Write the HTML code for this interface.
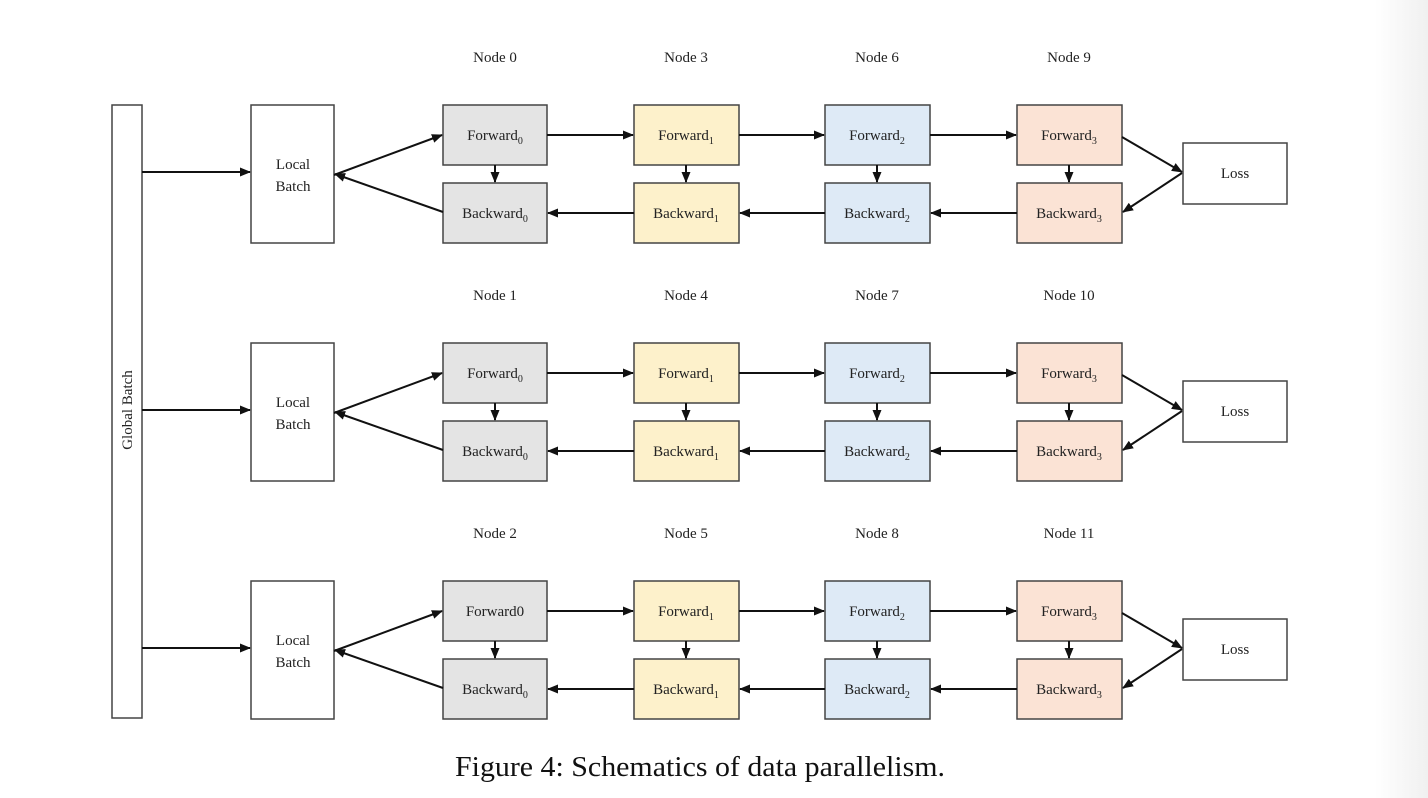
<!DOCTYPE html>
<html><head><meta charset="utf-8"><style>
html,body{margin:0;padding:0;background:#fff}
body{width:1428px;height:798px;overflow:hidden;position:relative}
.strip{position:absolute;left:1375px;top:0;width:53px;height:798px;background:linear-gradient(to right,#fff,#f0f0f0)}
svg{position:absolute;left:0;top:0}
text{font-family:"Liberation Serif",serif;fill:#222}
</style></head><body>
<div class="strip"></div>
<svg width="1428" height="798" viewBox="0 0 1428 798">
<defs>
<marker id="a" markerWidth="11" markerHeight="9" refX="10" refY="4.5" orient="auto" markerUnits="userSpaceOnUse">
<path d="M0,0 L11,4.5 L0,9 z" fill="#111"/></marker>
</defs>
<g stroke="#444" stroke-width="1.5">
<rect x="112" y="105" width="30" height="613" fill="#fff"/>
</g>
<text transform="translate(132,410) rotate(-90)" text-anchor="middle" font-size="15">Global  Batch</text>

<g id="row0">
<g stroke="#444" stroke-width="1.5">
<rect x="251" y="105" width="83" height="138" fill="#fff"/>
<rect x="443" y="105" width="104" height="60" fill="#e4e4e4"/>
<rect x="443" y="183" width="104" height="60" fill="#e4e4e4"/>
<rect x="634" y="105" width="105" height="60" fill="#fdf1cb"/>
<rect x="634" y="183" width="105" height="60" fill="#fdf1cb"/>
<rect x="825" y="105" width="105" height="60" fill="#deeaf6"/>
<rect x="825" y="183" width="105" height="60" fill="#deeaf6"/>
<rect x="1017" y="105" width="105" height="60" fill="#fbe3d5"/>
<rect x="1017" y="183" width="105" height="60" fill="#fbe3d5"/>
<rect x="1183" y="143" width="104" height="61" fill="#fff"/>
</g>
<g stroke="#111" stroke-width="2" fill="none" marker-end="url(#a)">
<line x1="142" y1="172" x2="250" y2="172"/>
<line x1="334" y1="175" x2="442" y2="135"/>
<line x1="443" y1="212" x2="335" y2="174"/>
<line x1="547" y1="135" x2="633" y2="135"/>
<line x1="739" y1="135" x2="824" y2="135"/>
<line x1="930" y1="135" x2="1016" y2="135"/>
<line x1="1017" y1="213" x2="931" y2="213"/>
<line x1="825" y1="213" x2="740" y2="213"/>
<line x1="634" y1="213" x2="548" y2="213"/>
<line x1="495" y1="165" x2="495" y2="182"/>
<line x1="686" y1="165" x2="686" y2="182"/>
<line x1="877" y1="165" x2="877" y2="182"/>
<line x1="1069" y1="165" x2="1069" y2="182"/>
<line x1="1122" y1="137" x2="1182" y2="172"/>
<line x1="1182" y1="173" x2="1123" y2="212"/>
</g>
<g font-size="15" text-anchor="middle">
<text x="293" y="169">Local</text><text x="293" y="191">Batch</text>
<text x="495" y="62">Node 0</text><text x="686" y="62">Node 3</text><text x="877" y="62">Node 6</text><text x="1069" y="62">Node 9</text>
<text x="495" y="140">Forward<tspan font-size="10" dy="4">0</tspan></text>
<text x="495" y="218">Backward<tspan font-size="10" dy="4">0</tspan></text>
<text x="686" y="140">Forward<tspan font-size="10" dy="4">1</tspan></text>
<text x="686" y="218">Backward<tspan font-size="10" dy="4">1</tspan></text>
<text x="877" y="140">Forward<tspan font-size="10" dy="4">2</tspan></text>
<text x="877" y="218">Backward<tspan font-size="10" dy="4">2</tspan></text>
<text x="1069" y="140">Forward<tspan font-size="10" dy="4">3</tspan></text>
<text x="1069" y="218">Backward<tspan font-size="10" dy="4">3</tspan></text>
<text x="1235" y="178">Loss</text>
</g>
</g>

<g transform="translate(0,238)">
<g stroke="#444" stroke-width="1.5">
<rect x="251" y="105" width="83" height="138" fill="#fff"/>
<rect x="443" y="105" width="104" height="60" fill="#e4e4e4"/>
<rect x="443" y="183" width="104" height="60" fill="#e4e4e4"/>
<rect x="634" y="105" width="105" height="60" fill="#fdf1cb"/>
<rect x="634" y="183" width="105" height="60" fill="#fdf1cb"/>
<rect x="825" y="105" width="105" height="60" fill="#deeaf6"/>
<rect x="825" y="183" width="105" height="60" fill="#deeaf6"/>
<rect x="1017" y="105" width="105" height="60" fill="#fbe3d5"/>
<rect x="1017" y="183" width="105" height="60" fill="#fbe3d5"/>
<rect x="1183" y="143" width="104" height="61" fill="#fff"/>
</g>
<g stroke="#111" stroke-width="2" fill="none" marker-end="url(#a)">
<line x1="142" y1="172" x2="250" y2="172"/>
<line x1="334" y1="175" x2="442" y2="135"/>
<line x1="443" y1="212" x2="335" y2="174"/>
<line x1="547" y1="135" x2="633" y2="135"/>
<line x1="739" y1="135" x2="824" y2="135"/>
<line x1="930" y1="135" x2="1016" y2="135"/>
<line x1="1017" y1="213" x2="931" y2="213"/>
<line x1="825" y1="213" x2="740" y2="213"/>
<line x1="634" y1="213" x2="548" y2="213"/>
<line x1="495" y1="165" x2="495" y2="182"/>
<line x1="686" y1="165" x2="686" y2="182"/>
<line x1="877" y1="165" x2="877" y2="182"/>
<line x1="1069" y1="165" x2="1069" y2="182"/>
<line x1="1122" y1="137" x2="1182" y2="172"/>
<line x1="1182" y1="173" x2="1123" y2="212"/>
</g>
<g font-size="15" text-anchor="middle">
<text x="293" y="169">Local</text><text x="293" y="191">Batch</text>
<text x="495" y="62">Node 1</text><text x="686" y="62">Node 4</text><text x="877" y="62">Node 7</text><text x="1069" y="62">Node 10</text>
<text x="495" y="140">Forward<tspan font-size="10" dy="4">0</tspan></text>
<text x="495" y="218">Backward<tspan font-size="10" dy="4">0</tspan></text>
<text x="686" y="140">Forward<tspan font-size="10" dy="4">1</tspan></text>
<text x="686" y="218">Backward<tspan font-size="10" dy="4">1</tspan></text>
<text x="877" y="140">Forward<tspan font-size="10" dy="4">2</tspan></text>
<text x="877" y="218">Backward<tspan font-size="10" dy="4">2</tspan></text>
<text x="1069" y="140">Forward<tspan font-size="10" dy="4">3</tspan></text>
<text x="1069" y="218">Backward<tspan font-size="10" dy="4">3</tspan></text>
<text x="1235" y="178">Loss</text>
</g>
</g>

<g transform="translate(0,476)">
<g stroke="#444" stroke-width="1.5">
<rect x="251" y="105" width="83" height="138" fill="#fff"/>
<rect x="443" y="105" width="104" height="60" fill="#e4e4e4"/>
<rect x="443" y="183" width="104" height="60" fill="#e4e4e4"/>
<rect x="634" y="105" width="105" height="60" fill="#fdf1cb"/>
<rect x="634" y="183" width="105" height="60" fill="#fdf1cb"/>
<rect x="825" y="105" width="105" height="60" fill="#deeaf6"/>
<rect x="825" y="183" width="105" height="60" fill="#deeaf6"/>
<rect x="1017" y="105" width="105" height="60" fill="#fbe3d5"/>
<rect x="1017" y="183" width="105" height="60" fill="#fbe3d5"/>
<rect x="1183" y="143" width="104" height="61" fill="#fff"/>
</g>
<g stroke="#111" stroke-width="2" fill="none" marker-end="url(#a)">
<line x1="142" y1="172" x2="250" y2="172"/>
<line x1="334" y1="175" x2="442" y2="135"/>
<line x1="443" y1="212" x2="335" y2="174"/>
<line x1="547" y1="135" x2="633" y2="135"/>
<line x1="739" y1="135" x2="824" y2="135"/>
<line x1="930" y1="135" x2="1016" y2="135"/>
<line x1="1017" y1="213" x2="931" y2="213"/>
<line x1="825" y1="213" x2="740" y2="213"/>
<line x1="634" y1="213" x2="548" y2="213"/>
<line x1="495" y1="165" x2="495" y2="182"/>
<line x1="686" y1="165" x2="686" y2="182"/>
<line x1="877" y1="165" x2="877" y2="182"/>
<line x1="1069" y1="165" x2="1069" y2="182"/>
<line x1="1122" y1="137" x2="1182" y2="172"/>
<line x1="1182" y1="173" x2="1123" y2="212"/>
</g>
<g font-size="15" text-anchor="middle">
<text x="293" y="169">Local</text><text x="293" y="191">Batch</text>
<text x="495" y="62">Node 2</text><text x="686" y="62">Node 5</text><text x="877" y="62">Node 8</text><text x="1069" y="62">Node 11</text>
<text x="495" y="140">Forward0</text>
<text x="495" y="218">Backward<tspan font-size="10" dy="4">0</tspan></text>
<text x="686" y="140">Forward<tspan font-size="10" dy="4">1</tspan></text>
<text x="686" y="218">Backward<tspan font-size="10" dy="4">1</tspan></text>
<text x="877" y="140">Forward<tspan font-size="10" dy="4">2</tspan></text>
<text x="877" y="218">Backward<tspan font-size="10" dy="4">2</tspan></text>
<text x="1069" y="140">Forward<tspan font-size="10" dy="4">3</tspan></text>
<text x="1069" y="218">Backward<tspan font-size="10" dy="4">3</tspan></text>
<text x="1235" y="178">Loss</text>
</g>
</g>

<text x="455" y="776" font-size="29" textLength="490" lengthAdjust="spacingAndGlyphs" style="fill:#111">Figure 4: Schematics of data parallelism.</text>
</svg>
</body></html>
